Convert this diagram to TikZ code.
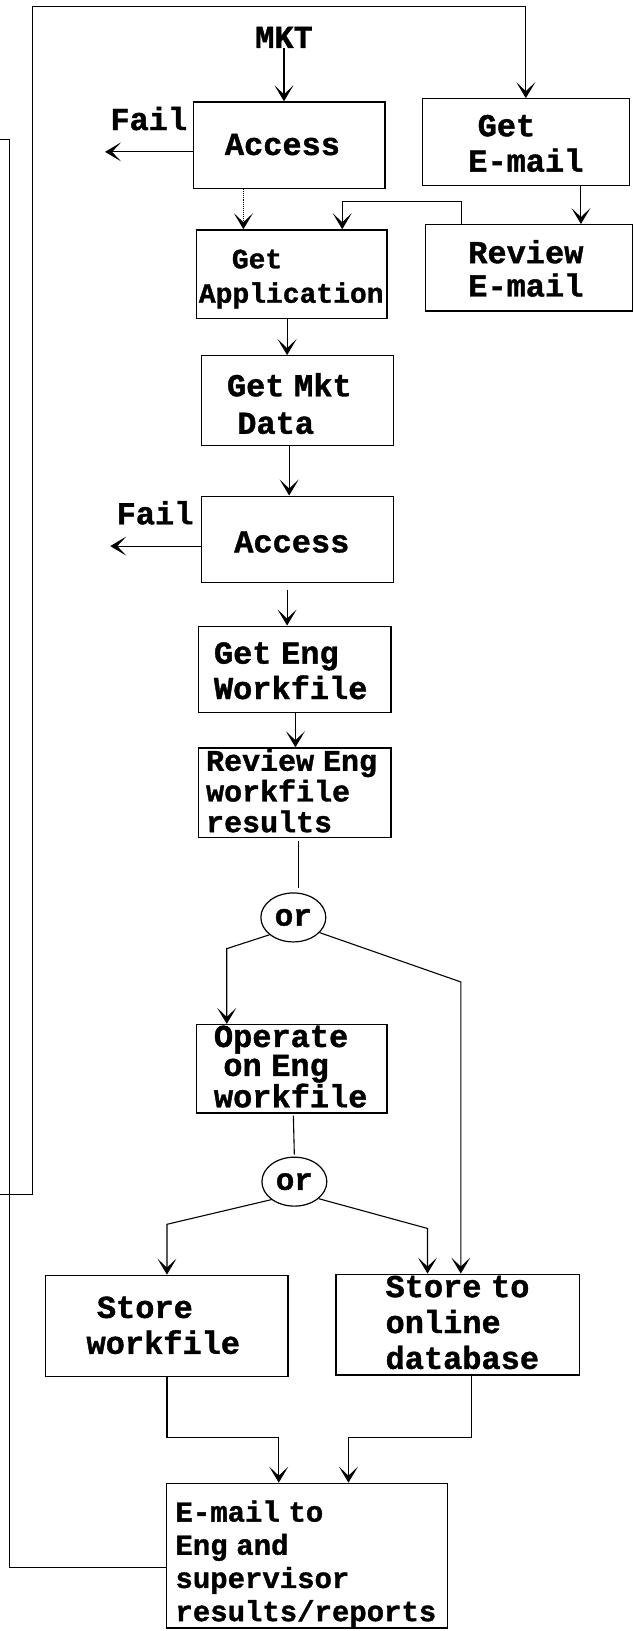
\documentclass[tikz,border=0pt]{standalone}
\usepackage{fontspec}
\newfontfamily\boxfont{Liberation Mono}[BoldFeatures={FakeBold=1.2}]
\usetikzlibrary{arrows.meta,shapes.geometric,fit}
\newcommand\wsp{\hspace{0.3em}}
\begin{document}
\begin{tikzpicture}[x=1.041pt,y=-1.041pt,
  box/.style={draw, line width=1.3pt, inner sep=0pt},
  wire/.style={line width=1.1pt},
  arr/.style={line width=1.1pt, -{Stealth[length=16pt,width=19pt,inset=9pt]}},
  lbl/.style 2 args={font=\boxfont\bfseries\fontsize{#1}{#2}\selectfont,
    inner sep=0pt, anchor=base west, align=left},
  ornode/.style={draw, ellipse, line width=1.2pt, inner sep=0pt,
    minimum width=65pt, minimum height=49pt,
    font=\boxfont\bfseries\fontsize{31}{31}\selectfont}]
\useasboundingbox (0,0) rectangle (610,1568);

% process boxes
\node[box, fit={(186,98) (370,181)}]   (acc1) {};
\node[box, fit={(406,95) (605,178)}]   (getmail) {};
\node[box, fit={(409,216) (608,299)}]  (revmail) {};
\node[box, fit={(189,221) (372,306)}]  (getapp) {};
\node[box, fit={(194,342) (378,428)}]  (mktdata) {};
\node[box, fit={(194,477) (378,560)}]  (acc2) {};
\node[box, fit={(191,602) (376,685)}]  (engwf) {};
\node[box, fit={(191,719) (376,805)}]  (reveng) {};
\node[box, fit={(189,985) (372,1070)}] (operate) {};
\node[box, fit={(44,1226) (277,1323)}] (storewf) {};
\node[box, fit={(323,1225) (557,1322)}] (storedb) {};
\node[box, fit={(160,1426) (430,1565)}] (email) {};

% decision points
\node[ornode] (or1) at (282,882) {or};
\node[ornode] (or2) at (283,1136) {or};

% texts (multi-line labels are placed by the baseline of their last line)
\node[lbl={32}{32}, anchor=base] (mkt) at (273,46) {MKT};
\node[lbl={32}{32}] (fail1) at (106,125) {Fail};
\node[lbl={32}{32}] (fail2) at (112,504) {Fail};
\node[lbl={32}{32}] (acc1-t) at (216,149) {Access};
\node[lbl={32}{35.4}] (getmail-t) at (450,165) {\hspace*{9.4pt}Get\\E-mail};
\node[lbl={32}{33.3}] (revmail-t) at (450,285) {Review\\E-mail};
\node[lbl={28}{34.4}] (getapp-t) at (191,291) {\hspace*{33pt}Get\\Application};
\node[lbl={32}{37.5}] (mktdata-t) at (218,417) {Get\wsp Mkt\\\hspace*{10.4pt}Data};
\node[lbl={32}{32}] (acc2-t) at (225,531) {Access};
\node[lbl={32}{35.4}] (engwf-t) at (205.5,672) {Get\wsp Eng\\Workfile};
\node[lbl={30}{30.7}] (reveng-t) at (198,800) {Review\wsp Eng\\workfile\\results};
\node[lbl={32}{28.9}] (operate-t) at (205.5,1064.5) {Operate\\\hspace*{9.4pt}on\wsp Eng\\workfile};
\node[lbl={32}{35.9}] (storewf-t) at (83,1301.5) {\hspace*{10.4pt}Store\\workfile};
\node[lbl={32}{35.9}] (storedb-t) at (370.5,1316) {Store\wsp to\\online\\database};
\node[lbl={29}{33.2}] (email-t) at (168.5,1558.5) {E-mail\wsp to\\Eng\wsp and\\supervisor\\results/reports};

% free ends
\coordinate (fail1end) at (101,146);
\coordinate (fail2end) at (106,525);
\coordinate (frameend) at (0,1148);
\coordinate (loopend) at (0,134);

% outer return lines
\draw[arr] (frameend) -- (31,1148) -- (31,6) -| (getmail.north);
\draw[wire] (loopend) -- (9,134) -- (9,1507) -- (email.west |- 9,1507);

% main flow
\draw[arr] (mkt.south) -- (mkt.south |- acc1.north);
\draw[arr] (acc1.west |- fail1end) -- (fail1end);
\draw[arr, densely dotted] (acc1.south -| 234,0) -- (getapp.north -| 234,0);
\draw[arr] (getmail.south -| 558.5,0) -- (revmail.north -| 558.5,0);
\draw[arr] (revmail.north -| 444,0) -- (444,194) -- (329,194) -- (getapp.north -| 329,0);
\draw[arr] (getapp.south -| 276,0) -- (mktdata.north -| 276,0);
\draw[arr] (mktdata.south -| 278,0) -- (acc2.north -| 278,0);
\draw[arr] (acc2.west |- fail2end) -- (fail2end);
\draw[arr, shorten <=7pt] (acc2.south -| 276,0) -- (engwf.north -| 276,0);
\draw[arr] (engwf.south -| 284,0) -- (reveng.north -| 284,0);
\draw[wire, shorten <=3pt, shorten >=4pt] (reveng.south -| 287,0) -- (or1.north -| 287,0);
\draw[arr] (or1.216) -- (218,912) -- (operate.north -| 218,0);
\draw[arr] (or1.-30) -- (443,944) -- (storedb.north -| 443,0);
\draw[wire, shorten <=2pt, shorten >=2pt] (operate.south -| 282,0) -- (or2.north);
\draw[arr] (or2.218) -- (storewf.north |- 0,1177) -- (storewf.north);
\draw[arr] (or2.-35) -- (411,1181) -- (storedb.north -| 411,0);
\draw[arr] (storewf.south) -- (160.5,1382) -- (268,1382) -- (email.north -| 268,0);
\draw[arr] (storedb.south -| 453.6,0) -- (453.6,1382) -- (335,1382) -- (email.north -| 335,0);
\end{tikzpicture}
\end{document}
